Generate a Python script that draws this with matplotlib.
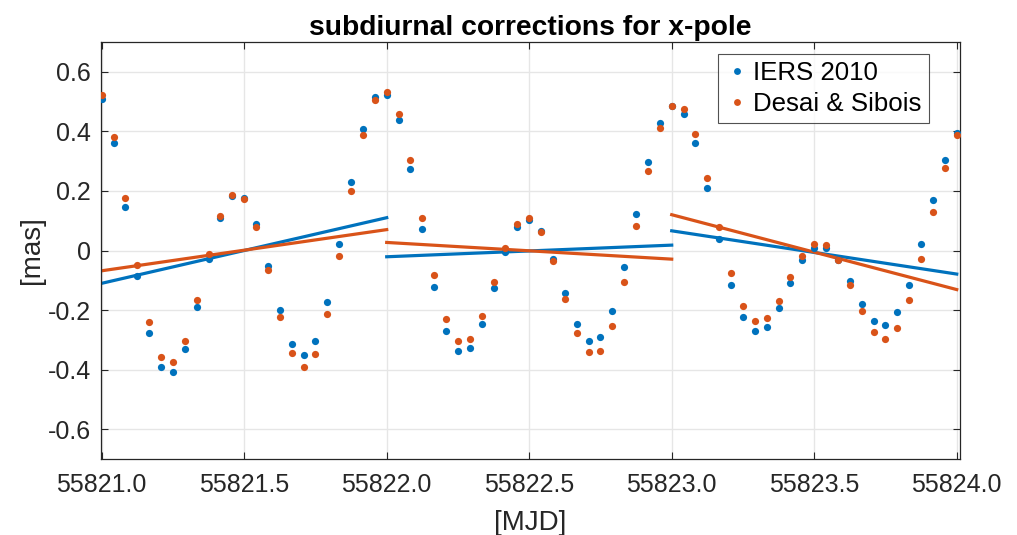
import numpy as np
import matplotlib
matplotlib.use("Agg")
import matplotlib.pyplot as plt

# ====== Data ======
MJD_START = 55821.0
HOURS = np.arange(73)          # hourly samples over three days
mjd = MJD_START + HOURS / 24.0

iers2010 = [
    0.507, 0.360, 0.145, -0.085, -0.276, -0.391, -0.408, -0.329, -0.191, -0.028,
    0.109, 0.183, 0.176, 0.088, -0.051, -0.198, -0.312, -0.352, -0.304, -0.171,
    0.022, 0.229, 0.407, 0.513, 0.521, 0.436, 0.273, 0.071, -0.123, -0.270,
    -0.338, -0.327, -0.245, -0.126, -0.006, 0.078, 0.103, 0.067, -0.027, -0.142,
    -0.245, -0.302, -0.289, -0.202, -0.055, 0.122, 0.297, 0.426, 0.483, 0.459,
    0.359, 0.208, 0.038, -0.117, -0.223, -0.270, -0.255, -0.194, -0.109, -0.033,
    0.010, 0.010, -0.033, -0.101, -0.179, -0.237, -0.251, -0.206, -0.115, 0.022,
    0.168, 0.302, 0.395,
]
desai_sibois = [
    0.521, 0.381, 0.175, -0.048, -0.240, -0.356, -0.375, -0.304, -0.167, -0.012,
    0.117, 0.186, 0.172, 0.080, -0.067, -0.223, -0.342, -0.391, -0.346, -0.214,
    -0.019, 0.200, 0.387, 0.504, 0.530, 0.458, 0.305, 0.109, -0.081, -0.229,
    -0.302, -0.297, -0.221, -0.106, 0.008, 0.090, 0.109, 0.062, -0.036, -0.161,
    -0.275, -0.341, -0.338, -0.253, -0.104, 0.081, 0.266, 0.410, 0.485, 0.476,
    0.389, 0.244, 0.079, -0.076, -0.185, -0.237, -0.225, -0.168, -0.089, -0.018,
    0.022, 0.019, -0.033, -0.115, -0.204, -0.273, -0.298, -0.261, -0.165, -0.028,
    0.130, 0.278, 0.387,
]

# daily linear trends: (start, end) value for each day
trend_days = [(55821.0, 55822.0), (55822.0, 55823.0), (55823.0, 55824.0)]
trend_iers = [(-0.110, 0.110), (-0.021, 0.018), (0.066, -0.079)]
trend_desai = [(-0.068, 0.070), (0.027, -0.029), (0.120, -0.131)]

labels = ["IERS 2010", "Desai & Sibois"]
xticks = [55821.0, 55821.5, 55822.0, 55822.5, 55823.0, 55823.5, 55824.0]
yticks = [-0.6, -0.4, -0.2, 0, 0.2, 0.4, 0.6]

# MATLAB default colour order
BLUE = "#0072BD"
ORANGE = "#D95319"
AXCOL = "#262626"

plt.rcParams["font.family"] = ["Liberation Sans", "DejaVu Sans"]

fig = plt.figure(figsize=(10.17, 5.35), dpi=100)
ax = fig.add_axes([100.7 / 1017, 1 - 459.3 / 535, (960 - 100.7) / 1017, (459.3 - 41.7) / 535])

ax.plot(mjd, iers2010, "o", color=BLUE, markersize=5.2, markeredgewidth=0, label=labels[0], zorder=3)
ax.plot(mjd, desai_sibois, "o", color=ORANGE, markersize=5.2, markeredgewidth=0, label=labels[1], zorder=3)

for (t0, t1), (b0, b1), (o0, o1) in zip(trend_days, trend_iers, trend_desai):
    ax.plot([t0, t1], [b0, b1], color=BLUE, linewidth=2.3, zorder=2)
    ax.plot([t0, t1], [o0, o1], color=ORANGE, linewidth=2.3, zorder=2)

ax.set_xlim(55820.9965, 55824.0115)
ax.set_ylim(-0.7, 0.7)
ax.set_xticks(xticks)
ax.set_xticklabels([f"{t:.1f}" for t in xticks])
ax.set_yticks(yticks)
ax.set_yticklabels(["-0.6", "-0.4", "-0.2", "0", "0.2", "0.4", "0.6"])

ax.grid(True, color="#e6e6e6", linewidth=1.0)
ax.set_axisbelow(True)
ax.tick_params(direction="in", top=True, right=True, length=5, width=0.8,
               colors=AXCOL, labelsize=18)
ax.tick_params(axis="x", pad=10)
ax.tick_params(axis="y", pad=7)
for sp in ax.spines.values():
    sp.set_color(AXCOL)
    sp.set_linewidth(0.9)

ax.set_xlabel("[MJD]", fontsize=20, color=AXCOL, labelpad=9)
ax.set_ylabel("[mas]", fontsize=20, color=AXCOL, labelpad=2)
ax.set_title("subdiurnal corrections for x-pole", fontsize=20.3, fontweight="bold", pad=5)

leg = ax.legend(loc="upper right", fontsize=18.6, frameon=True, fancybox=False,
                markerscale=0.95, handletextpad=0.2, borderpad=0.28, labelspacing=0.25,
                handlelength=0.9, borderaxespad=0, bbox_to_anchor=(0.964, 0.970))
leg.get_frame().set_edgecolor(AXCOL)
leg.get_frame().set_linewidth(0.8)

fig.savefig("out.png", dpi=100)
